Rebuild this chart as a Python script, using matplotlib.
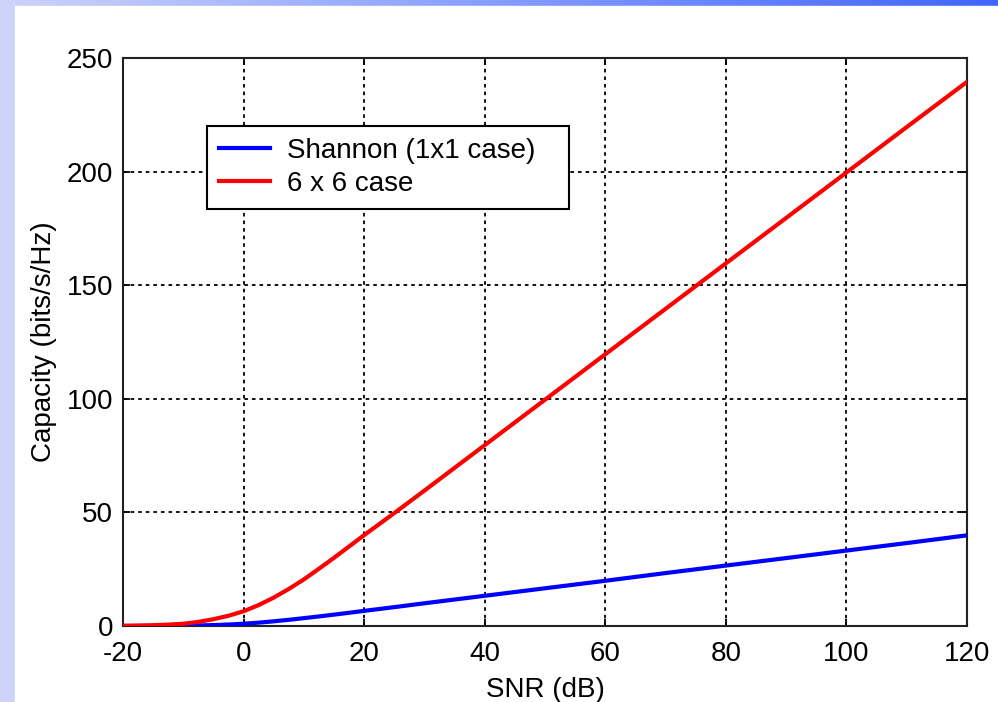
import numpy as np
import matplotlib
matplotlib.use("Agg")
import matplotlib.pyplot as plt
from matplotlib.patches import Rectangle

# ---- data ----
snr_db = [-20, -17.5, -15, -12.5, -10, -7.5, -5, -2.5, 0, 2.5, 5, 7.5, 10, 12.5, 15, 17.5,
          20, 25, 30, 40, 50, 60, 70, 80, 90, 100, 110, 120]
shannon_1x1 = [0.01, 0.03, 0.05, 0.08, 0.14, 0.24, 0.4, 0.65, 1.0, 1.47, 2.06, 2.72, 3.46,
               4.21, 5.0, 5.82, 6.66, 8.3, 10.0, 13.3, 16.6, 19.9, 23.3, 26.6, 29.9, 33.2,
               36.5, 39.9]
mimo_6x6 = [0.1, 0.2, 0.35, 0.6, 1.0, 1.8, 3.0, 4.5, 6.5, 9.2, 12.5, 16.3, 20.5, 25.2,
            30.0, 35.0, 40.0, 49.7, 59.6, 79.6, 99.6, 119.6, 139.6, 159.6, 179.6, 199.6,
            219.6, 239.5]
x_ticks = [-20, 0, 20, 40, 60, 80, 100, 120]
y_ticks = [0, 50, 100, 150, 200, 250]
labels = ["Shannon (1x1 case)", "6 x 6 case"]

plt.rcParams['font.family'] = ['Liberation Sans', 'DejaVu Sans']
plt.rcParams['axes.unicode_minus'] = False

W, H = 998, 702
FS = 20
fig = plt.figure(figsize=(W / 100, H / 100), dpi=100)

# slide background: gradient band on top, lavender strip on the left
bg = fig.add_axes([0, 0, 1, 1], zorder=-10)
bg.set_axis_off()
grad = np.linspace(0, 1, 256)
c0 = np.array([0.80, 0.83, 0.98])
c1 = np.array([0.25, 0.40, 1.00])
img = c0[None, :] * (1 - grad[:, None]) + c1[None, :] * grad[:, None]
bg.imshow(img[None, :, :], extent=[0, 1, 0, 1], aspect='auto')
bg.add_patch(Rectangle((0, 0), 15 / W, 1, color=c0, transform=bg.transAxes, zorder=2))
bg.add_patch(Rectangle((15 / W, 0), 1, 1 - 6 / H, color='white',
                       transform=bg.transAxes, zorder=3))
bg.set_xlim(0, 1)
bg.set_ylim(0, 1)

ax = fig.add_axes([123 / W, 76 / H, 844 / W, 568 / H])
ax.plot(snr_db, shannon_1x1, color='#0000ff', lw=3.0, label=labels[0], zorder=3)
ax.plot(snr_db, mimo_6x6, color='#ff0000', lw=3.0, label=labels[1], zorder=3)

ax.set_xlim(-20, 120)
ax.set_ylim(0, 250)
ax.set_xticks(x_ticks)
ax.set_yticks(y_ticks)
ax.grid(True, color='black', linestyle=(0, (2, 2.2)), linewidth=1.3)
ax.tick_params(direction='in', length=5, width=1.3, top=True, right=True,
               labelsize=FS, colors='black')
ax.tick_params(axis='y', pad=7)
ax.tick_params(axis='x', pad=11)
for sp in ax.spines.values():
    sp.set_linewidth(1.5)
    sp.set_color('#222222')

ax.set_xlabel('SNR (dB)', fontsize=FS, labelpad=7)
ax.set_ylabel('Capacity (bits/s/Hz)', fontsize=FS, labelpad=7)

lx0 = (207 - 123) / 844
lw_ = (569 - 207) / 844
ly0 = (626 - 207) / 568
lh = (207 - 126) / 568
leg = ax.legend(loc='upper left', bbox_to_anchor=(lx0, ly0, lw_, lh), mode='expand',
                fontsize=FS, frameon=True, fancybox=False, handlelength=1.85,
                borderpad=0.42, labelspacing=0.26, handletextpad=0.6, borderaxespad=0)
leg.get_frame().set_edgecolor('black')
leg.get_frame().set_linewidth(1.5)
leg.get_frame().set_alpha(1)

fig.savefig('out.png', dpi=100)
